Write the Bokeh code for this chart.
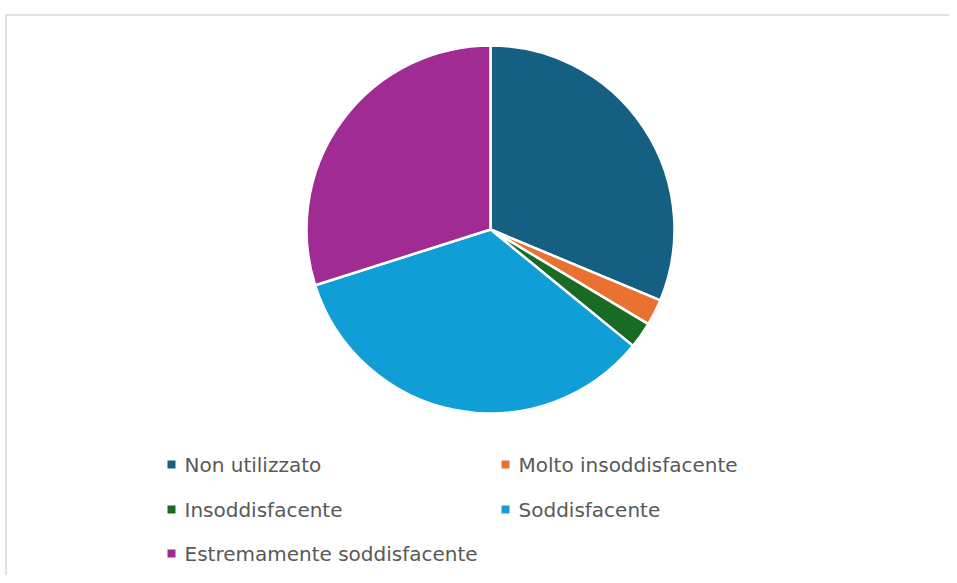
import math
from bokeh.plotting import figure
from bokeh.models import ColumnDataSource, Range1d
from bokeh.core.properties import value
from bokeh.embed import file_html
from bokeh.resources import INLINE

categories = ["Non utilizzato", "Molto insoddisfacente", "Insoddisfacente",
              "Soddisfacente", "Estremamente soddisfacente"]
values = [31.3, 2.3, 2.3, 34.2, 29.9]
colors = ["#156082", "#E97132", "#196B24", "#0F9ED5", "#A02B93"]

W, H = 949, 575
# data coords: x = image_x, y = H - image_y
p = figure(width=W, height=H, output_backend="svg", toolbar_location=None,
           x_range=Range1d(0, W), y_range=Range1d(0, H), min_border=0)
p.axis.visible = False
p.grid.visible = False
p.outline_line_color = None
p.background_fill_color = "white"
p.border_fill_color = "white"

def py(img_y):
    return H - img_y

# chart area border
p.line(x=[5.5, 5.5, 960], y=[py(600), py(14.5), py(14.5)], line_color="#d9d9d9", line_width=1.5)

# pie
cx, cy, r = 490, py(229), 184
total = sum(values)
starts, ends = [], []
cum = 0.0
for v in values:
    a0 = math.pi / 2 - 2 * math.pi * cum / total
    cum += v
    a1 = math.pi / 2 - 2 * math.pi * cum / total
    starts.append(a1)
    ends.append(a0)
src = ColumnDataSource(dict(start=starts, end=ends, color=colors, cat=categories))
p.wedge(x=cx, y=cy, radius=r, start_angle="start", end_angle="end",
        fill_color="color", line_color="white", line_width=2.5, source=src)

# legend
lx = [171, 505, 171, 505, 171]
ly = [464, 464, 509, 509, 553]
lsrc = ColumnDataSource(dict(x=lx, y=[py(v) for v in ly],
                             tx=[v + 13 for v in lx], color=colors, cat=categories))
p.scatter(x="x", y="y", marker="square", size=8, fill_color="color",
          line_color=None, source=lsrc)
p.text(x="tx", y="y", text="cat", text_font=value("DejaVu Sans"), text_font_size="20px",
       text_color="#595959", text_baseline="middle", text_align="left", source=lsrc)

open("out.html", "w").write(file_html(p, INLINE))
